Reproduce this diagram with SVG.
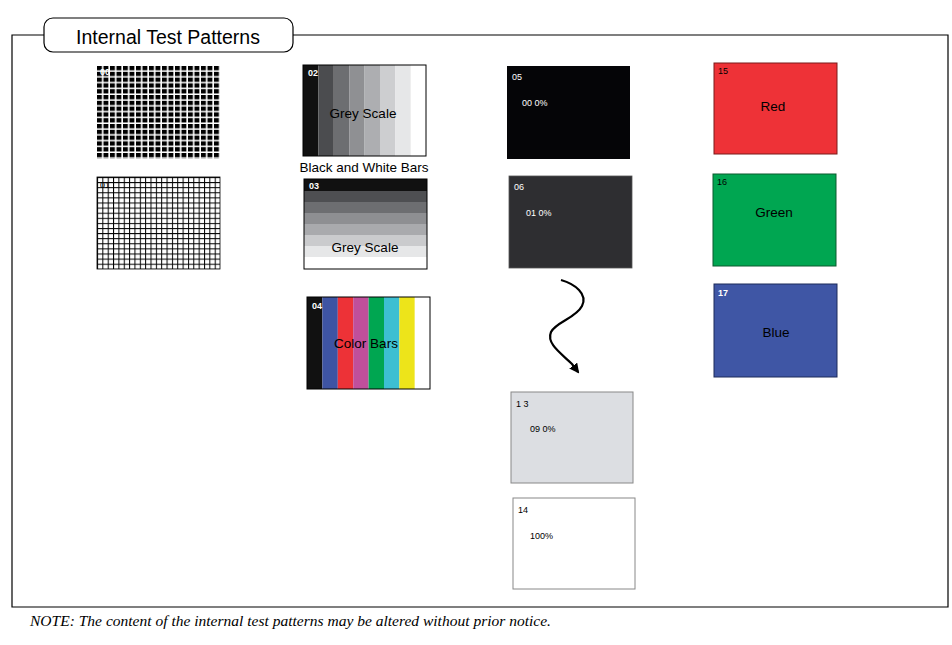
<svg xmlns="http://www.w3.org/2000/svg" width="952" height="645" viewBox="0 0 952 645">
<style>
.frame{fill:none;stroke:#000;stroke-width:1.2}
.lbl{font-family:"Liberation Sans",Arial,sans-serif;font-size:9px;font-weight:bold}
.cap{font-family:"Liberation Sans",Arial,sans-serif;font-size:13.5px;text-anchor:middle}
.pct{font-family:"Liberation Sans",Arial,sans-serif;font-size:9px}
.w{fill:#fff}
.k{fill:#111}
</style>
<defs>
<pattern id="sq" patternUnits="userSpaceOnUse" x="97" y="66" width="6.5" height="5.8">
<rect width="6.5" height="5.8" fill="#fff"/>
<rect width="4.9" height="4.3" fill="#000"/>
</pattern>
<pattern id="grid" patternUnits="userSpaceOnUse" x="97" y="177" width="5.35" height="5.1">
<rect width="5.35" height="5.1" fill="#fff"/>
<rect width="1" height="5.1" fill="#000"/>
<rect width="5.35" height="1" fill="#000"/>
</pattern>
<marker id="ah" markerWidth="10" markerHeight="10" refX="8" refY="5" orient="auto" markerUnits="userSpaceOnUse">
<path d="M0,0 L10,5 L0,10 Z" fill="#000"/>
</marker>
</defs>
<rect width="952" height="645" fill="#fff"/>

<g id="frame">
<path class="frame" d="M44,35 H12 V607 H948 V35 H293"/>
<rect x="44" y="18" width="249" height="34" rx="9" ry="9" fill="#fff" stroke="#000" stroke-width="1.2"/>
<text x="168" y="44" font-family="Liberation Sans,Arial,sans-serif" font-size="19.5" text-anchor="middle">Internal Test Patterns</text>
</g>

<g id="p00">
<rect x="97" y="66" width="123" height="93" fill="url(#sq)"/>
<text class="lbl w" x="100" y="75">00</text>
</g>
<g id="p01">
<rect x="97" y="177" width="123" height="92" fill="url(#grid)"/>
<rect x="97" y="177" width="123" height="92" fill="none" stroke="#000" stroke-width="0.8"/>
<text class="pct" x="100" y="188" fill="#000">01</text>
</g>

<g id="p02">
<rect x="303" y="65" width="15.4" height="91" fill="#111"/>
<rect x="318.4" y="65" width="15.4" height="91" fill="#4b4c4f"/>
<rect x="333.8" y="65" width="15.4" height="91" fill="#6d6e71"/>
<rect x="349.2" y="65" width="15.4" height="91" fill="#8f9093"/>
<rect x="364.6" y="65" width="15.4" height="91" fill="#adaeb1"/>
<rect x="380" y="65" width="15.4" height="91" fill="#cdced0"/>
<rect x="395.4" y="65" width="15.4" height="91" fill="#e6e7e8"/>
<rect x="410.8" y="65" width="15.2" height="91" fill="#fff"/>
<rect x="303" y="65" width="123" height="91" fill="none" stroke="#000" stroke-width="1"/>
<text class="lbl w" x="308" y="76">02</text>
<text class="cap" x="363" y="118">Grey Scale</text>
<text class="cap" x="364" y="172">Black and White Bars</text>
</g>

<g id="p03">
<rect x="304" y="179" width="123" height="12" fill="#111"/>
<rect x="304" y="191" width="123" height="11" fill="#4e4f52"/>
<rect x="304" y="202" width="123" height="11" fill="#6d6e71"/>
<rect x="304" y="213" width="123" height="11" fill="#8e8f92"/>
<rect x="304" y="224" width="123" height="11" fill="#a9aaad"/>
<rect x="304" y="235" width="123" height="11" fill="#cacbcd"/>
<rect x="304" y="246" width="123" height="11" fill="#e6e7e8"/>
<rect x="304" y="257" width="123" height="12" fill="#fff"/>
<rect x="304" y="179" width="123" height="90" fill="none" stroke="#000" stroke-width="1"/>
<text class="lbl w" x="309" y="189">03</text>
<text class="cap" x="365" y="252">Grey Scale</text>
</g>

<g id="p04">
<rect x="307" y="297" width="15.4" height="92" fill="#111"/>
<rect x="322.4" y="297" width="15.4" height="92" fill="#3e54a3"/>
<rect x="337.8" y="297" width="15.4" height="92" fill="#ed3237"/>
<rect x="353.2" y="297" width="15.4" height="92" fill="#c04f9b"/>
<rect x="368.6" y="297" width="15.4" height="92" fill="#00a651"/>
<rect x="384" y="297" width="15.4" height="92" fill="#3dbfd2"/>
<rect x="399.4" y="297" width="15.4" height="92" fill="#ede41a"/>
<rect x="414.8" y="297" width="15.2" height="92" fill="#fff"/>
<rect x="307" y="297" width="123" height="92" fill="none" stroke="#000" stroke-width="1"/>
<text class="lbl w" x="312" y="309">04</text>
<text class="cap" x="366" y="348">Color Bars</text>
</g>

<g id="p05">
<rect x="507" y="66" width="123" height="93" fill="#050507"/>
<text class="pct w" x="512" y="80">05</text>
<text class="pct w" x="522" y="106">00 0%</text>
</g>
<g id="p06">
<rect x="509" y="176" width="123" height="92" fill="#2e2e31" stroke="#555" stroke-width="0.8"/>
<text class="pct w" x="514" y="190">06</text>
<text class="pct w" x="526" y="216">01 0%</text>
</g>

<g id="connectors">
<path d="M561,280 C575,284 588,294 582,306 C576,318 556,322 551,332 C546,344 562,354 572,364 L578,372" fill="none" stroke="#000" stroke-width="2.2" marker-end="url(#ah)"/>
</g>

<g id="p13">
<rect x="511" y="392" width="122" height="91" fill="#dcdee2" stroke="#888" stroke-width="1"/>
<text class="pct" x="516" y="407">1 3</text>
<text class="pct" x="530" y="432">09 0%</text>
</g>
<g id="p14">
<rect x="513" y="498" width="122" height="91" fill="#fff" stroke="#888" stroke-width="1"/>
<text class="pct" x="518" y="513">14</text>
<text class="pct" x="530" y="539">100%</text>
</g>

<g id="p15">
<rect x="714" y="63" width="123" height="91" fill="#ee3237" stroke="#7a1a1a" stroke-width="1"/>
<text class="pct" x="718" y="74">15</text>
<text class="cap" x="773" y="111">Red</text>
</g>
<g id="p16">
<rect x="713" y="174" width="123" height="92" fill="#00a651" stroke="#0b5a2e" stroke-width="1"/>
<text class="pct" x="717" y="185">16</text>
<text class="cap" x="774" y="217">Green</text>
</g>
<g id="p17">
<rect x="714" y="284" width="123" height="93" fill="#3f56a5" stroke="#1d2a5a" stroke-width="1"/>
<text class="lbl w" x="718" y="296">17</text>
<text class="cap" x="776" y="337">Blue</text>
</g>

<text x="30" y="626" font-family="Liberation Serif,Times New Roman,serif" font-style="italic" font-size="15" textLength="521" lengthAdjust="spacingAndGlyphs">NOTE: The content of the internal test patterns may be altered without prior notice.</text>
</svg>
